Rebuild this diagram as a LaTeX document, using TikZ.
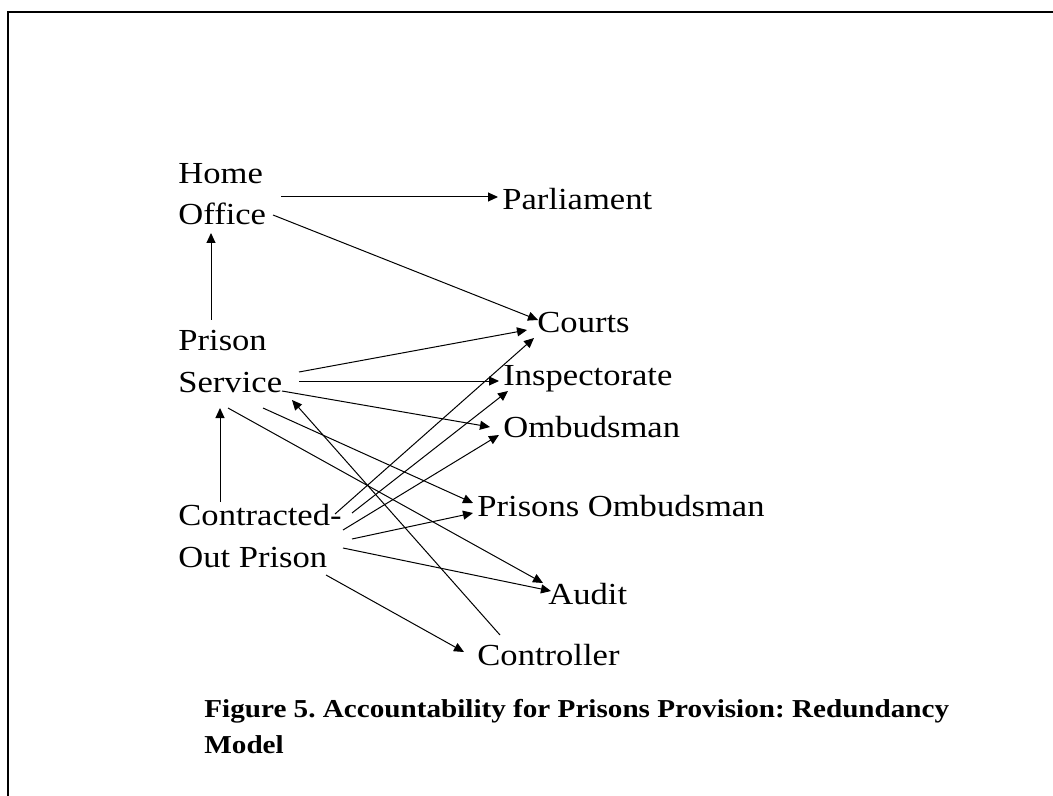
\documentclass[tikz,border=0pt]{standalone}
\usepackage{fontspec}
\setmainfont{Liberation Serif}[FakeStretch=1.13]
\usepackage{tikz}
\usetikzlibrary{arrows.meta}
\frenchspacing

\begin{document}
\begin{tikzpicture}[x=0.5pt,y=-0.5pt,
   lbl/.style={inner sep=0pt,anchor=base west,align=left,font=\fontsize{15.3}{20.75}\selectfont},
   arr/.style={-{Triangle[length=5pt,width=4.5pt]},line width=0.5pt}]
   \useasboundingbox (0,0) rectangle (1053,796);
   \draw[line width=1pt] (7.7,796) -- (7.7,12) -- (1053,12);
   \node[lbl] (home)   at (178,225) {Home\\Office};
   \node[lbl] (parl)   at (502,210) {Parliament};
   \node[lbl] (ps)     at (178,392) {Prison\\Service};
   \node[lbl] (courts) at (537,333) {Courts};
   \node[lbl] (insp)   at (503,385) {Inspectorate};
   \node[lbl] (omb)    at (503,437) {Ombudsman};
   \node[lbl] (pomb)   at (477,516) {Prisons Ombudsman};
   \node[lbl] (cop)    at (178,567) {Contracted-\\Out Prison};
   \node[lbl] (audit)  at (548,604) {Audit};
   \node[lbl] (ctrl)   at (477,665) {Controller};
   \node[inner sep=0pt,anchor=base west,align=left,font=\fontsize{12.9}{18}\selectfont\bfseries] (cap) at (204,753)
      {Figure 5. Accountability for Prisons Provision: Redundancy\\Model};
   \draw[arr] ([shift={(103,-28)}]home.base west) -- ([shift={(-4,-13)}]parl.base west);
   \draw[arr] ([shift={(95,-10)}]home.base west) -- ([shift={(1,-13)}]courts.base west);
   \draw[arr] ([shift={(33,-72)}]ps.base west) -- ([shift={(33,8)}]home.base west);
   \draw[arr] ([shift={(121,-20)}]ps.base west) -- ([shift={(-10,-3)}]courts.base west);
   \draw[arr] ([shift={(121,-11)}]ps.base west) -- ([shift={(-4,-4)}]insp.base west);
   \draw[arr] ([shift={(104,-1)}]ps.base west) -- ([shift={(-13,-10)}]omb.base west);
   \draw[arr] ([shift={(85,16)}]ps.base west) -- ([shift={(-4,-13)}]pomb.base west);
   \draw[arr] ([shift={(50,16)}]ps.base west) -- ([shift={(-5,-21)}]audit.base west);
   \draw[arr] ([shift={(42,-65)}]cop.base west) -- ([shift={(42,16)}]ps.base west);
   \draw[arr] ([shift={(157,-53)}]cop.base west) -- ([shift={(-3,5)}]courts.base west);
   \draw[arr] ([shift={(174,-54)}]cop.base west) -- ([shift={(5,6)}]insp.base west);
   \draw[arr] ([shift={(165,-37)}]cop.base west) -- ([shift={(-4,-2)}]omb.base west);
   \draw[arr] ([shift={(174,-28)}]cop.base west) -- ([shift={(-4,-3)}]pomb.base west);
   \draw[arr] ([shift={(165,-19)}]cop.base west) -- ([shift={(3,-13)}]audit.base west);
   \draw[arr] ([shift={(148,8)}]cop.base west) -- ([shift={(-13,-13)}]ctrl.base west);
   \draw[arr] ([shift={(23,-30)}]ctrl.base west) -- ([shift={(114,8)}]ps.base west);
\end{tikzpicture}
\end{document}
